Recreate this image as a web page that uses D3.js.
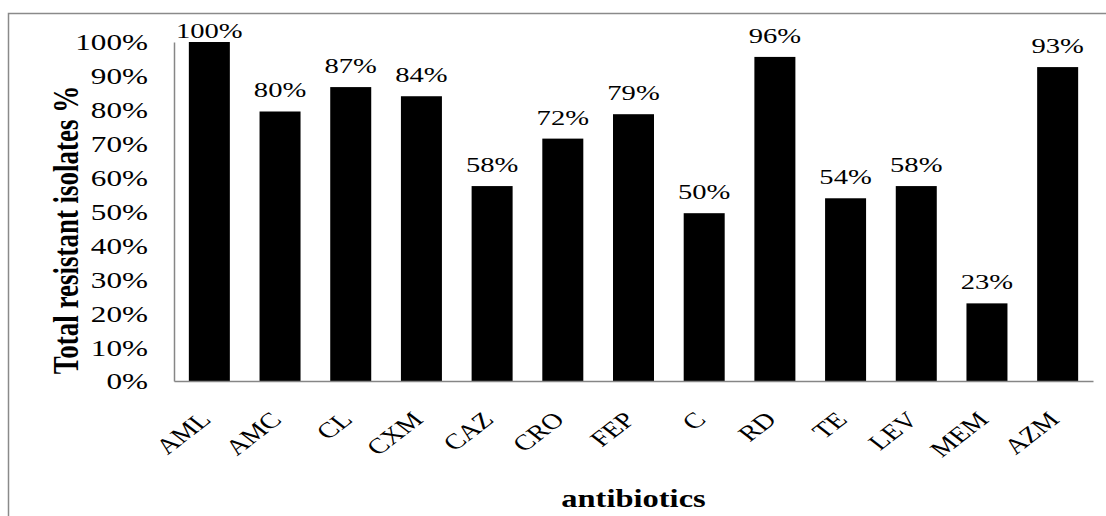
<!DOCTYPE html>
<html>
<head>
<meta charset="utf-8">
<script src="https://cdn.jsdelivr.net/npm/d3@7"></script>
<style>
  body { margin: 0; background: #fff; }
  .chart text { font-family: "Liberation Serif", "Times New Roman", serif; fill: #000; }
  .axis path, .axis line { stroke: #868686; }
</style>
</head>
<body>
<div class="chart"></div>
<script>
var categories = ["AML", "AMC", "CL", "CXM", "CAZ", "CRO", "FEP", "C", "RD", "TE", "LEV", "MEM", "AZM"];
var resistant = [100, 79.5, 86.7, 84, 57.5, 71.5, 78.7, 49.5, 95.6, 53.9, 57.5, 22.9, 92.6];
var yTicks = [0, 10, 20, 30, 40, 50, 60, 70, 80, 90, 100];

// the source picture is stretched sideways, so every text gets this x scale
var STRETCH = 1.3;

function getChartOptions() {
  var chart = {};
  chart.margin = { top: 42, right: 13, bottom: 135, left: 174 };
  chart.width = 1106 - chart.margin.left - chart.margin.right;
  chart.height = 516 - chart.margin.top - chart.margin.bottom;
  chart.data = categories.map((c, i) => ({ name: c, value: resistant[i] }));
  chart.xScale = d3.scaleBand()
    .domain(categories)
    .range([0, chart.width])
    .paddingInner(0.42)
    .paddingOuter(0.21);
  chart.yScale = d3.scaleLinear()
    .domain([0, 100])
    .range([chart.height, 0]);
  return chart;
}

function drawChart(chart) {
  d3.select(".chart").selectAll("svg").remove();
  var root = d3.select(".chart").append("svg")
    .attr("width", 1106)
    .attr("height", 516);

  // outer frame
  root.append("rect")
    .attr("x", 8.5)
    .attr("y", 13.5)
    .attr("width", 1200)
    .attr("height", 600)
    .attr("fill", "none")
    .attr("stroke", "#8a8a8a")
    .attr("stroke-width", 1.5);

  var svg = root.append("g")
    .attr("transform", `translate(${chart.margin.left}, ${chart.margin.top})`);

  svg.selectAll(".bar")
    .data(chart.data)
    .enter().append("rect")
    .attr("class", "bar")
    .attr("x", d => chart.xScale(d.name))
    .attr("y", d => chart.yScale(d.value))
    .attr("width", chart.xScale.bandwidth())
    .attr("height", d => chart.height - chart.yScale(d.value))
    .attr("fill", "#000");

  // axis lines only, no tick marks
  var yAxis = d3.axisLeft(chart.yScale).tickValues(yTicks).tickSize(0).tickFormat("");
  svg.append("g").attr("class", "y axis").call(yAxis);
  var xAxis = d3.axisBottom(chart.xScale).tickSize(0).tickFormat("");
  svg.append("g")
    .attr("class", "x axis")
    .attr("transform", `translate(0, ${chart.height})`)
    .call(xAxis);
  svg.selectAll(".axis path").attr("stroke-width", 1.5);

  svg.selectAll(".ytick")
    .data(yTicks)
    .enter().append("text")
    .attr("class", "ytick")
    .attr("transform", d => `translate(-26, ${chart.yScale(d)}) scale(${STRETCH}, 1)`)
    .attr("dy", "0.35em")
    .attr("text-anchor", "end")
    .style("font-size", "24px")
    .text(d => d + "%");

  svg.selectAll(".xlabel")
    .data(chart.data)
    .enter().append("text")
    .attr("class", "xlabel")
    .attr("transform", d => `translate(${chart.xScale(d.name) + chart.xScale.bandwidth() / 2 + 3}, ${chart.height + 40}) scale(${STRETCH}, 1) rotate(-45)`)
    .attr("text-anchor", "end")
    .style("font-size", "22px")
    .text(d => d.name);

  svg.selectAll(".value")
    .data(chart.data)
    .enter().append("text")
    .attr("class", "value")
    .attr("transform", d => `translate(${chart.xScale(d.name) + chart.xScale.bandwidth() / 2}, ${Math.max(chart.yScale(d.value) - 14, -4)}) scale(${STRETCH}, 1)`)
    .attr("text-anchor", "middle")
    .style("font-size", "22px")
    .text(d => Math.round(d.value) + "%");

  svg.append("text")
    .attr("transform", `translate(${chart.width / 2}, ${chart.height + 126}) scale(${STRETCH}, 1)`)
    .attr("text-anchor", "middle")
    .style("font-size", "25px")
    .style("font-weight", "bold")
    .text("antibiotics");

  root.append("text")
    .attr("transform", `translate(78, 230) scale(${STRETCH}, 1) rotate(-90)`)
    .attr("text-anchor", "middle")
    .style("font-size", "27px")
    .style("font-weight", "bold")
    .text("Total resistant isolates %");
}

drawChart(getChartOptions());
</script>
</body>
</html>
